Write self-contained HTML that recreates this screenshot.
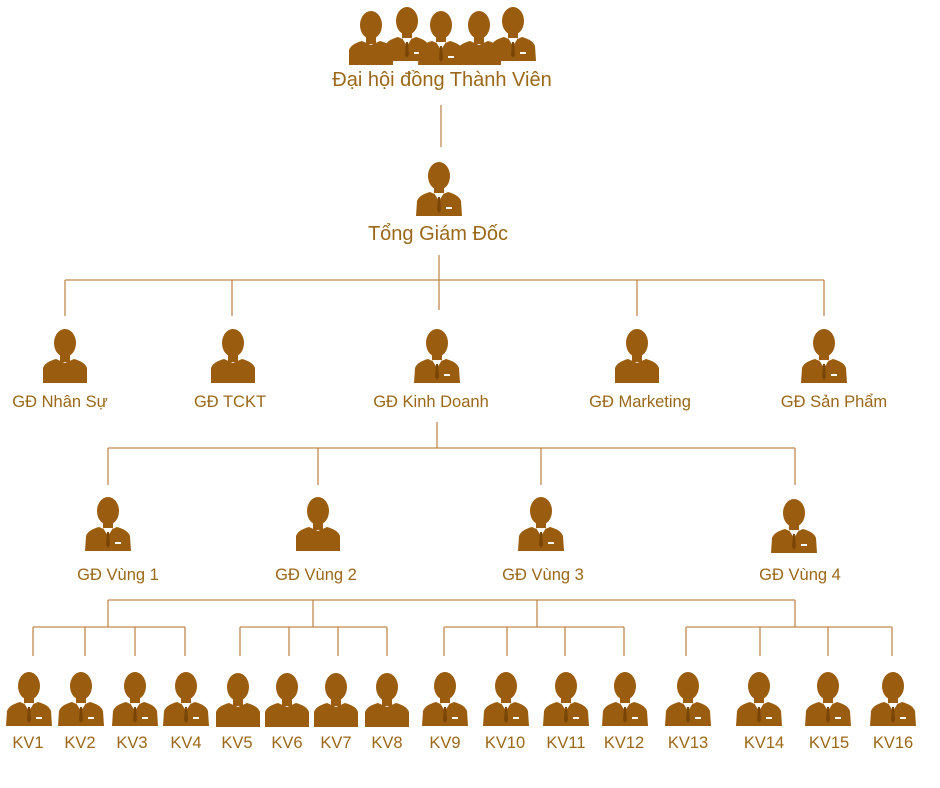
<!DOCTYPE html>
<html><head><meta charset="utf-8"><style>
html,body{margin:0;padding:0;background:#fff;}
svg{display:block}
text{font-family:"Liberation Sans","DejaVu Sans",sans-serif;fill:#9a6818;text-anchor:middle}
</style></head><body>
<svg width="940" height="788" viewBox="0 0 940 788" xmlns="http://www.w3.org/2000/svg">
<defs>
<g id="p">
<ellipse cx="23" cy="16" rx="11" ry="14" fill="#9a5c0e"/>
<rect x="18" y="25" width="10" height="10" fill="#9a5c0e"/>
<path d="M0 56 L1 41 Q3 35 14 32 L23 36 L32 32 Q43 35 45 41 L46 56 Z" fill="#9a5c0e"/>
<path d="M18 33 L23 41 L28 33 Z" fill="#fff"/>
<path d="M22 37 L24 37 L25 50 L23 53 L21 50 Z" fill="#7a4608"/>
<rect x="30" y="47" width="6" height="2" fill="#fff"/>
</g>
<g id="s">
<ellipse cx="23" cy="16" rx="11" ry="14" fill="#9a5c0e"/>
<rect x="18" y="25" width="10" height="10" fill="#9a5c0e"/>
<path d="M1 56 L1 41 Q3 35 14 32 L23 36 L32 32 Q43 35 45 41 L45 56 Z" fill="#9a5c0e"/>
</g>
</defs>
<g stroke="#c08a50" stroke-width="1.3" fill="none">
<path d="M441 105V147"/>
<path d="M439 255V310M65 280H824M65 280V316M232 280V316M637 280V316M824 280V316"/>
<path d="M437 422V448M108 448H795M108 448V485M318 448V485M541 448V485M795 448V485"/>
<path d="M108 600H795M108 600V627M313 600V627M537 600V627M795 600V627"/>
<path d="M33 627H185M33 627V656M85 627V656M135 627V656M185 627V656"/>
<path d="M240 627H387M240 627V656M289 627V656M338 627V656M387 627V656"/>
<path d="M444 627H624M444 627V656M507 627V656M565 627V656M624 627V656"/>
<path d="M686 627H892M686 627V656M760 627V656M828 627V656M892 627V656"/>
</g>
<use href="#s" x="348" y="9"/>
<use href="#p" x="384" y="5"/>
<use href="#p" x="418" y="9"/>
<use href="#s" x="456" y="9"/>
<use href="#p" x="490" y="5"/>
<text x="442" y="86" font-size="20">Đại hội đồng Thành Viên</text>
<use href="#p" x="416" y="160"/>
<text x="438" y="240" font-size="20">Tổng Giám Đốc</text>
<use href="#s" x="42" y="327"/>
<use href="#s" x="210" y="327"/>
<use href="#p" x="414" y="327"/>
<use href="#s" x="614" y="327"/>
<use href="#p" x="801" y="327"/>
<g font-size="16.5">
<text x="60" y="407">GĐ Nhân Sự</text>
<text x="230" y="407">GĐ TCKT</text>
<text x="431" y="407">GĐ Kinh Doanh</text>
<text x="640" y="407">GĐ Marketing</text>
<text x="834" y="407">GĐ Sản Phẩm</text>
</g>
<use href="#p" x="85" y="495"/>
<use href="#s" x="295" y="495"/>
<use href="#p" x="518" y="495"/>
<use href="#p" x="771" y="497"/>
<g font-size="16.5">
<text x="118" y="580">GĐ Vùng 1</text>
<text x="316" y="580">GĐ Vùng 2</text>
<text x="543" y="580">GĐ Vùng 3</text>
<text x="800" y="580">GĐ Vùng 4</text>
</g>
<use href="#p" x="6" y="670"/><use href="#p" x="58" y="670"/><use href="#p" x="112" y="670"/><use href="#p" x="163" y="670"/>
<use href="#s" x="215" y="671"/><use href="#s" x="264" y="671"/><use href="#s" x="313" y="671"/><use href="#s" x="364" y="671"/>
<use href="#p" x="422" y="670"/><use href="#p" x="483" y="670"/><use href="#p" x="543" y="670"/><use href="#p" x="602" y="670"/>
<use href="#p" x="665" y="670"/><use href="#p" x="736" y="670"/><use href="#p" x="805" y="670"/><use href="#p" x="870" y="670"/>
<g font-size="16.5">
<text x="28" y="748">KV1</text><text x="80" y="748">KV2</text><text x="132" y="748">KV3</text><text x="186" y="748">KV4</text>
<text x="237" y="748">KV5</text><text x="287" y="748">KV6</text><text x="336" y="748">KV7</text><text x="387" y="748">KV8</text>
<text x="445" y="748">KV9</text><text x="505" y="748">KV10</text><text x="566" y="748">KV11</text><text x="624" y="748">KV12</text>
<text x="688" y="748">KV13</text><text x="764" y="748">KV14</text><text x="829" y="748">KV15</text><text x="893" y="748">KV16</text>
</g>
</svg>
</body></html>
